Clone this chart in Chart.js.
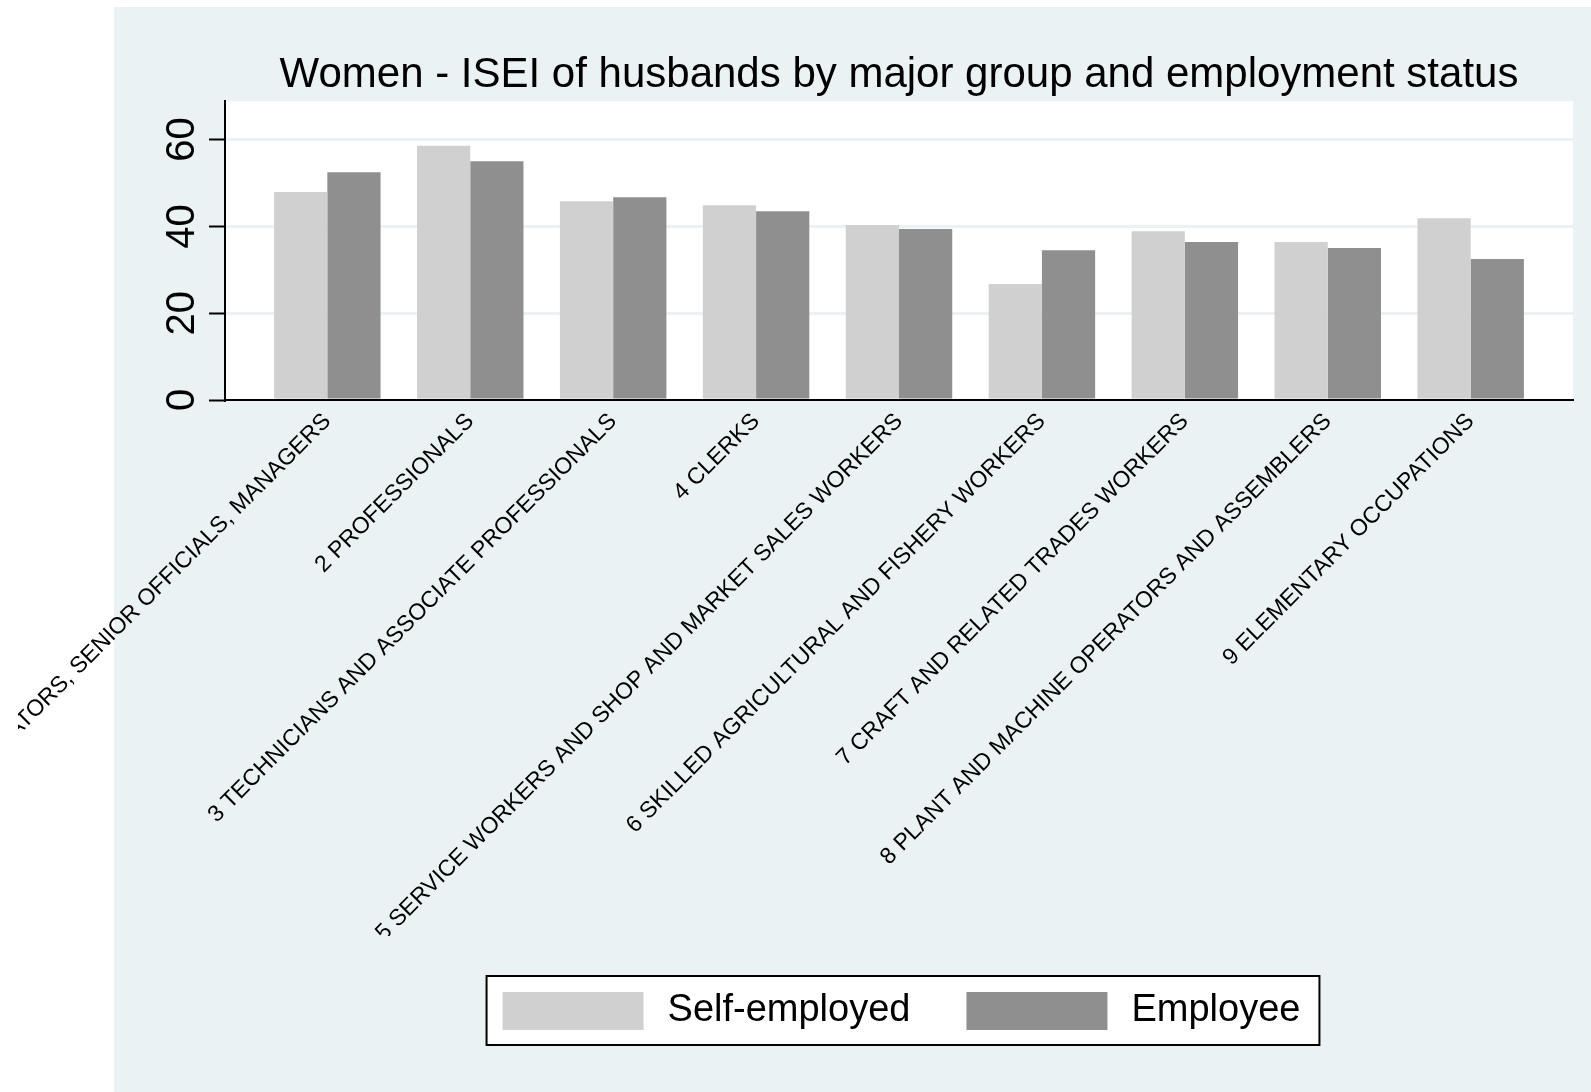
<!DOCTYPE html>
<html>
<head>
<meta charset="utf-8">
<script src="https://cdn.jsdelivr.net/npm/chart.js@4.4.1/dist/chart.umd.min.js"></script>
<style>
  html, body { margin: 0; padding: 0; background: #fff; overflow: hidden; }
  #wrap { position: absolute; left: 18px; top: 0; width: 1573px; height: 1092px; }
</style>
</head>
<body>
<div id="wrap"><canvas id="chart-isei"></canvas></div>
<script>
// Dados
const categories = [
  '1 LEGISLATORS, SENIOR OFFICIALS, MANAGERS',
  '2 PROFESSIONALS',
  '3 TECHNICIANS AND ASSOCIATE PROFESSIONALS',
  '4 CLERKS',
  '5 SERVICE WORKERS AND SHOP AND MARKET SALES WORKERS',
  '6 SKILLED AGRICULTURAL AND FISHERY WORKERS',
  '7 CRAFT AND RELATED TRADES WORKERS',
  '8 PLANT AND MACHINE OPERATORS AND ASSEMBLERS',
  '9 ELEMENTARY OCCUPATIONS'
];
const selfEmployed = [47.9, 58.6, 45.8, 44.9, 40.3, 26.7, 38.9, 36.4, 41.9];
const employee = [52.5, 55.0, 46.7, 43.5, 39.4, 34.5, 36.4, 35.0, 32.5];
const yTicks = [0, 20, 40, 60];

const FONT = '"Liberation Sans", Arial, Helvetica, sans-serif';
const BG = '#EAF2F3';
const SWATCH_INSET = 5; // borda branca do quadrado da legenda

// fundo azul claro + caixa da legenda
const backgroundPlugin = {
  id: 'stataBackground',
  beforeDraw(chart) {
    const {ctx, chartArea, width, height} = chart;
    ctx.save();
    ctx.fillStyle = BG;
    ctx.fillRect(96, 7, width - 96, height - 7);
    ctx.fillStyle = '#fff';
    ctx.fillRect(chartArea.left, chartArea.top, chartArea.right - chartArea.left, chartArea.bottom - chartArea.top);

    const boxes = chart.legend.legendHitBoxes;
    if (boxes && boxes.length) {
      const left = boxes[0].left + SWATCH_INSET - 16;
      const top = boxes[0].top + SWATCH_INSET - 16;
      const last = boxes[boxes.length - 1];
      const right = last.left + last.width + 19;
      const bottom = last.top + last.height - SWATCH_INSET + 15;
      ctx.fillStyle = '#fff';
      ctx.fillRect(left, top, right - left, bottom - top);
      ctx.strokeStyle = '#000';
      ctx.lineWidth = 2;
      ctx.strokeRect(left, top, right - left, bottom - top);
    }
    ctx.restore();
  }
};

const data = {
  datasets: [
    {
      label: 'Self-employed',
      data: selfEmployed.map((v, i) => ({x: i + 1, y: v})),
      backgroundColor: '#D0D0D0',
      borderWidth: 0,
      categoryPercentage: 0.745,
      barPercentage: 1
    },
    {
      label: 'Employee',
      data: employee.map((v, i) => ({x: i + 1, y: v})),
      backgroundColor: '#8F8F8F',
      borderWidth: 0,
      categoryPercentage: 0.745,
      barPercentage: 1
    }
  ]
};

const config = {
  type: 'bar',
  data: data,
  options: {
    responsive: true,
    maintainAspectRatio: false,
    animation: false,
    events: [],
    layout: { padding: { top: 0, left: 0, right: 18, bottom: 47 } },
    plugins: {
      tooltip: { enabled: false },
      title: {
        display: true,
        fullSize: false,
        text: 'Women - ISEI of husbands by major group and employment status',
        color: '#000',
        font: { family: FONT, size: 42, weight: 'normal' },
        padding: { top: 50, bottom: 1 }
      },
      legend: {
        position: 'bottom',
        fullSize: false,
        labels: {
          color: '#000',
          font: { family: FONT, size: 38 },
          boxWidth: 141 + 2 * SWATCH_INSET,
          boxHeight: 38 + 2 * SWATCH_INSET,
          padding: 51,
          generateLabels: (chart) => {
            const items = Chart.defaults.plugins.legend.labels.generateLabels(chart);
            items.forEach(it => { it.strokeStyle = '#fff'; it.lineWidth = 2 * SWATCH_INSET; });
            return items;
          }
        }
      }
    },
    scales: {
      x: {
        type: 'linear',
        min: 0.284,
        max: 9.716,
        offset: false,
        grid: { display: false, drawTicks: false },
        border: { display: true, color: '#000', width: 2 },
        afterBuildTicks: (scale) => { scale.ticks = categories.map((c, i) => ({value: i + 1})); },
        afterFit: (scale) => { scale.height = 536; scale.paddingLeft = 0; scale.paddingRight = 0; },
        ticks: {
          autoSkip: false,
          minRotation: 45,
          maxRotation: 45,
          padding: 8,
          color: '#000',
          font: { family: FONT, size: 23 },
          callback: (value) => categories[value - 1]
        }
      },
      y: {
        min: 0,
        max: 68.8,
        afterBuildTicks: (scale) => { scale.ticks = yTicks.map(v => ({value: v})); },
        afterFit: (scale) => { scale.width = 207; scale.paddingTop = 0; scale.paddingBottom = 0; },
        grid: {
          color: (c) => (c.tick && c.tick.value === 0) ? 'rgba(0,0,0,0)' : BG,
          lineWidth: 3,
          tickColor: '#000',
          tickWidth: 2,
          tickLength: 16,
          drawTicks: true
        },
        border: { display: true, color: '#000', width: 2 },
        ticks: {
          minRotation: 90,
          maxRotation: 90,
          crossAlign: 'center',
          padding: 4,
          color: '#000',
          font: { family: FONT, size: 40 }
        }
      }
    }
  },
  plugins: [backgroundPlugin]
};

const myChart = new Chart(document.getElementById('chart-isei'), config);
</script>
</body>
</html>
